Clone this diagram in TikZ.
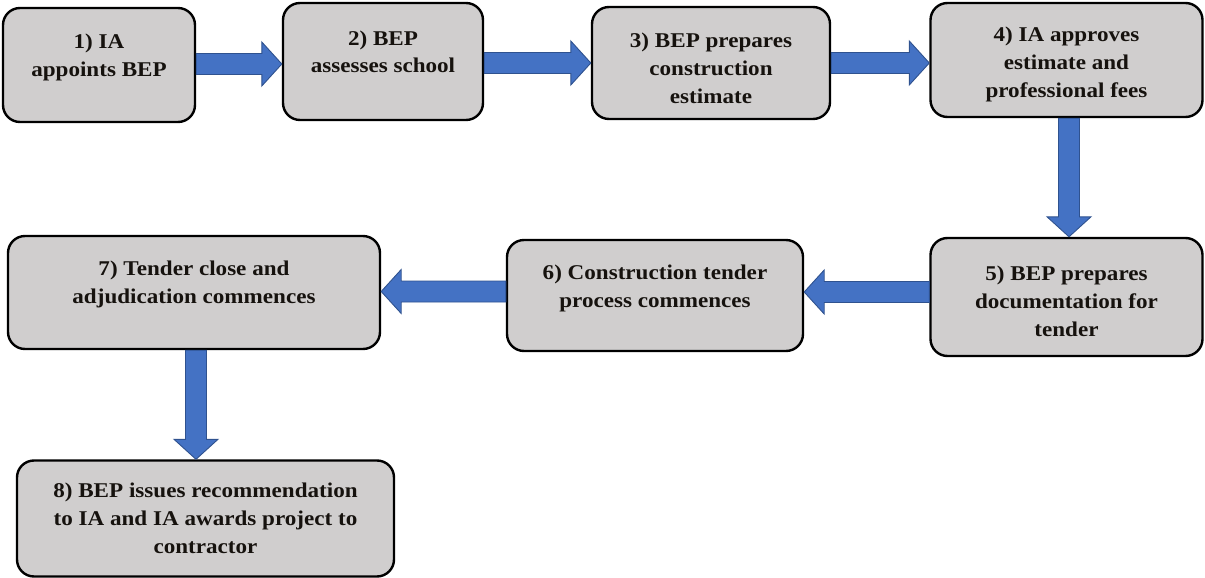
\documentclass[tikz,border=0pt]{standalone}
\usepackage{fontspec}
\setmainfont{Liberation Serif}[FakeStretch=1.1]
\usetikzlibrary{calc}
\definecolor{boxfill}{RGB}{208,206,206}
\definecolor{arrowfill}{RGB}{68,114,196}
\definecolor{arrowline}{RGB}{47,82,143}
\definecolor{inktext}{RGB}{22,18,14}
\tikzset{
  stepbox/.style={draw=black, line width=2.4pt, fill=boxfill, rounded corners=17pt, inner sep=0pt},
  steptext/.style={anchor=base, align=center, inner sep=0pt, text=inktext,
    font=\fontsize{21}{28}\selectfont\bfseries},
  flowarrowstyle/.style={fill=arrowfill, draw=arrowline, line width=0.9pt, line join=miter}
}
% block arrow from #1 to #2: shaft half width 10.5pt, head half width 22pt, head length 20pt
\newcommand\flowarrow[2]{%
  \path ($(#2)!20pt!(#1)$) coordinate (ahead);
  \draw[flowarrowstyle]
    ($(#1)!10.5pt!90:(#2)$) -- ($(ahead)!10.5pt!90:(#2)$) -- ($(ahead)!22pt!90:(#2)$)
    -- (#2) -- ($(ahead)!22pt!-90:(#2)$) -- ($(ahead)!10.5pt!-90:(#2)$)
    -- ($(#1)!10.5pt!-90:(#2)$) -- cycle;}
\begin{document}
\begin{tikzpicture}[x=1pt,y=-1pt]
\useasboundingbox (0,0) rectangle (1205,578);

% step boxes
\node[stepbox, minimum width=192pt, minimum height=114pt] (b1) at (99,65) {};
\node[stepbox, minimum width=200pt, minimum height=117pt] (b2) at (383,61.5) {};
\node[stepbox, minimum width=238pt, minimum height=112pt] (b3) at (711,63) {};
\node[stepbox, minimum width=272pt, minimum height=114pt] (b4) at (1066.5,60) {};
\node[stepbox, minimum width=272pt, minimum height=118pt] (b5) at (1066.5,297) {};
\node[stepbox, minimum width=296pt, minimum height=111pt] (b6) at (655,295.5) {};
\node[stepbox, minimum width=372pt, minimum height=113pt] (b7) at (194,292.5) {};
\node[stepbox, minimum width=377pt, minimum height=116pt] (b8) at (205.5,518.5) {};

% arrow end points
\coordinate (a12s) at ([yshift=1pt]b1.east);
\coordinate (a12e) at (a12s -| b2.west);
\coordinate (a23s) at ([yshift=-1.5pt]b2.east);
\coordinate (a23e) at (a23s -| b3.west);
\coordinate (a34s) at (b3.east);
\coordinate (a34e) at (a34s -| b4.west);
\coordinate (a45s) at ([xshift=2.5pt]b4.south);
\coordinate (a45e) at (a45s |- b5.north);
\coordinate (a56s) at ([yshift=5pt]b5.west);
\coordinate (a56e) at (a56s -| b6.east);
\coordinate (a67s) at ([yshift=4pt]b6.west);
\coordinate (a67e) at (a67s -| b7.east);
\coordinate (a78s) at ([xshift=2pt]b7.south);
\coordinate (a78e) at (a78s |- b8.north);

\flowarrow{a12s}{a12e}
\flowarrow{a23s}{a23e}
\flowarrow{a34s}{a34e}
\flowarrow{a45s}{a45e}
\flowarrow{a56s}{a56e}
\flowarrow{a67s}{a67e}
\flowarrow{a78s}{a78e}

% step texts (placed by the baseline of their last line)
\node[steptext] (t1) at (99,77) {1) IA\\appoints BEP};
\node[steptext] (t2) at (383,73) {2) BEP\\assesses school};
\node[steptext] (t3) at (711,103) {3) BEP prepares\\construction\\estimate};
\node[steptext] (t4) at (1066.5,98) {4) IA approves\\estimate and\\professional fees};
\node[steptext] (t5) at (1066.5,336) {5) BEP prepares\\documentation for\\tender};
\node[steptext] (t6) at (655,307) {6) Construction tender\\process commences};
\node[steptext] (t7) at (194,303) {7) Tender close and\\adjudication commences};
\node[steptext] (t8) at (205.5,553) {8) BEP issues recommendation\\to IA and IA awards project to\\contractor};
\end{tikzpicture}
\end{document}
